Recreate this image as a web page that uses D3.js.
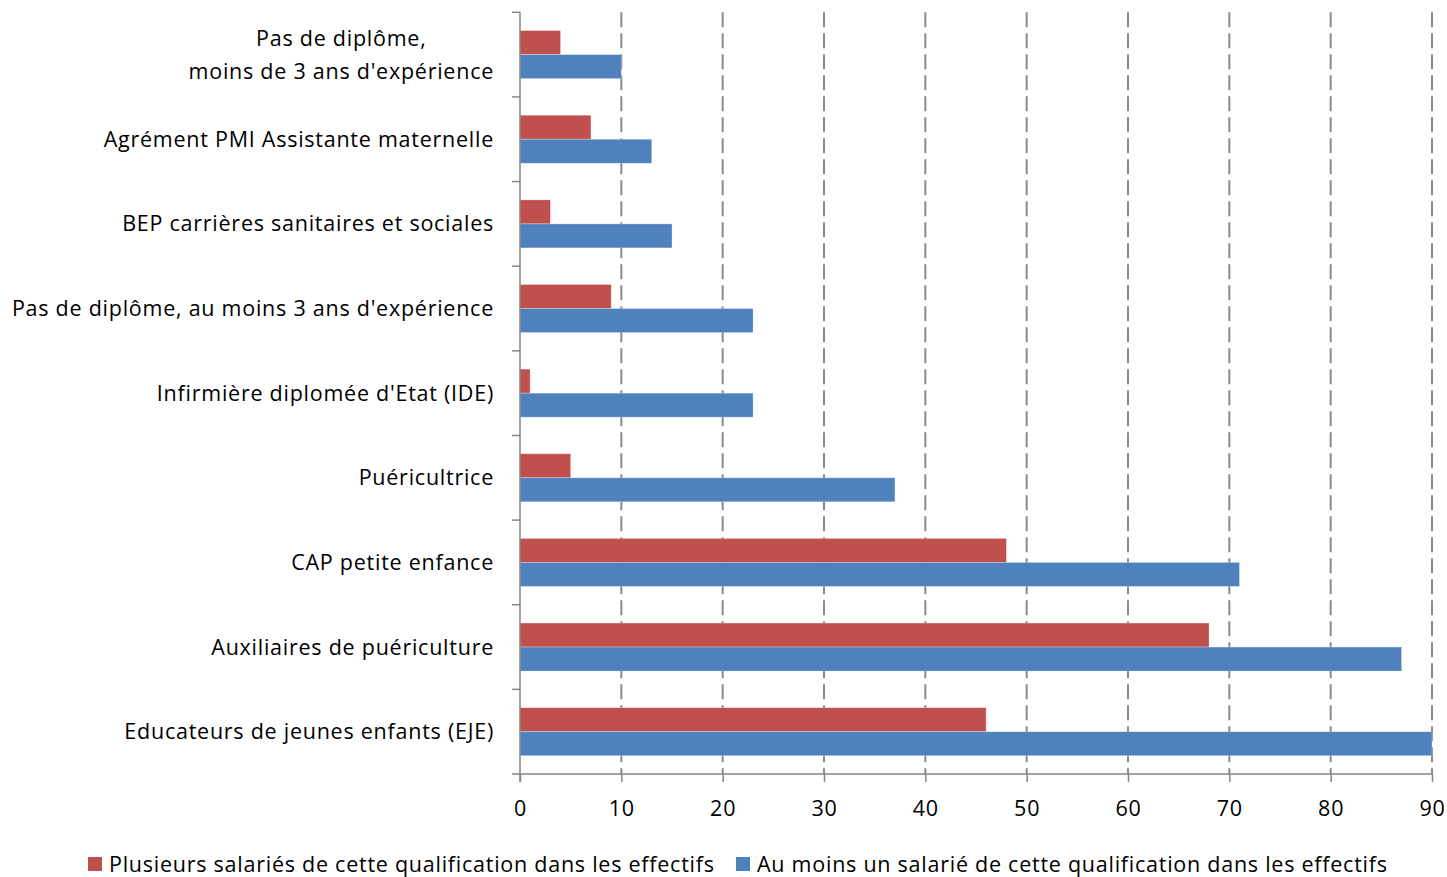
<!DOCTYPE html>
<html>
<head>
<meta charset="utf-8">
<script src="https://cdn.jsdelivr.net/npm/d3@7"></script>
<style>
  html, body { margin: 0; padding: 0; background: #fff; }
  svg { display: block; font-family: "Open Sans", Lato, sans-serif; }
  text { letter-spacing: 0.75px; }
</style>
</head>
<body>
<svg id="chart" width="1447" height="877"></svg>
<script>
// categories top to bottom
const categories = [
  "Pas de diplôme,\nmoins de 3 ans d'expérience",
  "Agrément PMI Assistante maternelle",
  "BEP carrières sanitaires et sociales",
  "Pas de diplôme, au moins 3 ans d'expérience",
  "Infirmière diplomée d'Etat (IDE)",
  "Puéricultrice",
  "CAP petite enfance",
  "Auxiliaires de puériculture",
  "Educateurs de jeunes enfants (EJE)"
];
const seriesNames = [
  "Plusieurs salariés de cette qualification dans les effectifs",
  "Au moins un salarié de cette qualification dans les effectifs"
];
const plusieurs = [4, 7, 3, 9, 1, 5, 48, 68, 46];
const auMoinsUn = [10, 13, 15, 23, 23, 37, 71, 87, 90];
const xTicks = [0, 10, 20, 30, 40, 50, 60, 70, 80, 90];
const colors = ["#C0504D", "#4F81BD"];

const svg = d3.select("#chart");
const plotLeft = 520, plotRight = 1432, plotTop = 12.3, plotBottom = 774;
const fontSize = 21.5;

let x = d3.scaleLinear().domain([0, 90]).range([plotLeft, plotRight]);
let y0 = d3.scaleBand().domain(categories).range([plotTop, plotBottom]).padding(0);
let y1 = d3.scaleBand().domain(seriesNames).range([0, y0.bandwidth()])
  .paddingInner(0).paddingOuter(0.7625);
let color = d3.scaleOrdinal().domain(seriesNames).range(colors);

let rows = categories.map((c, i) => ({
  key: c,
  values: [
    { key: seriesNames[0], value: plusieurs[i] },
    { key: seriesNames[1], value: auMoinsUn[i] }
  ]
}));

// dashed vertical grid
svg.append("g")
  .selectAll("line")
  .data(xTicks.filter(d => d > 0))
  .join("line")
  .attr("x1", d => x(d)).attr("x2", d => x(d))
  .attr("y1", plotTop).attr("y2", plotBottom)
  .attr("stroke", "#8a8a8a")
  .attr("stroke-width", 2)
  .attr("stroke-dasharray", "15,6");

// bars
let groups = svg.append("g")
  .selectAll("g.row")
  .data(rows)
  .join("g")
  .attr("class", "row")
  .attr("transform", d => `translate(0,${y0(d.key)})`);

groups.selectAll("rect")
  .data(d => d.values)
  .join("rect")
  .attr("x", x(0))
  .attr("y", d => y1(d.key))
  .attr("width", d => x(d.value) - x(0))
  .attr("height", y1.bandwidth())
  .attr("fill", d => color(d.key))
  .attr("stroke", "#ffffff")
  .attr("stroke-opacity", 0.35)
  .attr("stroke-width", 0.8);

// x axis
let xAxis = svg.append("g")
  .attr("transform", `translate(0,${plotBottom})`)
  .call(d3.axisBottom(x).tickValues(xTicks).tickSize(8).tickSizeOuter(0).tickPadding(19));
xAxis.select(".domain").attr("stroke", "#868686").attr("stroke-width", 1.5)
  .attr("d", `M${plotLeft - 8},0H${plotRight}`);
xAxis.selectAll(".tick line").attr("stroke", "#868686").attr("stroke-width", 1.5);
xAxis.selectAll(".tick text")
  .attr("fill", "#000")
  .style("font-size", fontSize + "px")
  .style("font-family", "'Open Sans', Lato, sans-serif");

// y axis: vertical line and category ticks
let yTickPos = d3.range(categories.length + 1).map(i => plotTop + i * y0.step());
svg.append("line")
  .attr("x1", plotLeft).attr("x2", plotLeft)
  .attr("y1", plotTop).attr("y2", plotBottom + 8)
  .attr("stroke", "#868686").attr("stroke-width", 1.5);
svg.append("g")
  .selectAll("line")
  .data(yTickPos.slice(0, -1))
  .join("line")
  .attr("x1", plotLeft - 8).attr("x2", plotLeft)
  .attr("y1", d => d).attr("y2", d => d)
  .attr("stroke", "#868686").attr("stroke-width", 1.5);

// category labels (wrapped labels are centred inside their block)
const labelRight = 494;
let labels = svg.append("g")
  .selectAll("text")
  .data(categories)
  .join("text")
  .attr("font-size", fontSize)
  .attr("fill", "#000");
labels.each(function(d) {
  let lines = d.split("\n");
  let cy = y0(d) + y0.bandwidth() / 2;
  let lh = 33;
  let t = d3.select(this);
  let spans = t.selectAll("tspan")
    .data(lines)
    .join("tspan")
    .attr("y", (l, i) => cy + (i - (lines.length - 1) / 2) * lh)
    .attr("dy", "0.35em")
    .text(l => l);
  if (lines.length === 1) {
    t.attr("text-anchor", "end");
    spans.attr("x", labelRight);
  } else {
    let w = d3.max(spans.nodes(), n => n.getComputedTextLength());
    t.attr("text-anchor", "middle");
    spans.attr("x", labelRight - w / 2);
  }
});

// legend
let legend = svg.append("g").attr("transform", "translate(88,864)");
let lx = [0, 648];
seriesNames.forEach((s, i) => {
  let g = legend.append("g").attr("transform", `translate(${lx[i]},0)`);
  g.append("rect").attr("x", 0).attr("y", -7).attr("width", 14).attr("height", 14)
    .attr("fill", colors[i]);
  g.append("text").attr("x", 21).attr("y", 0).attr("dy", "0.35em")
    .attr("font-size", fontSize).attr("fill", "#000").text(s);
});
</script>
</body>
</html>
